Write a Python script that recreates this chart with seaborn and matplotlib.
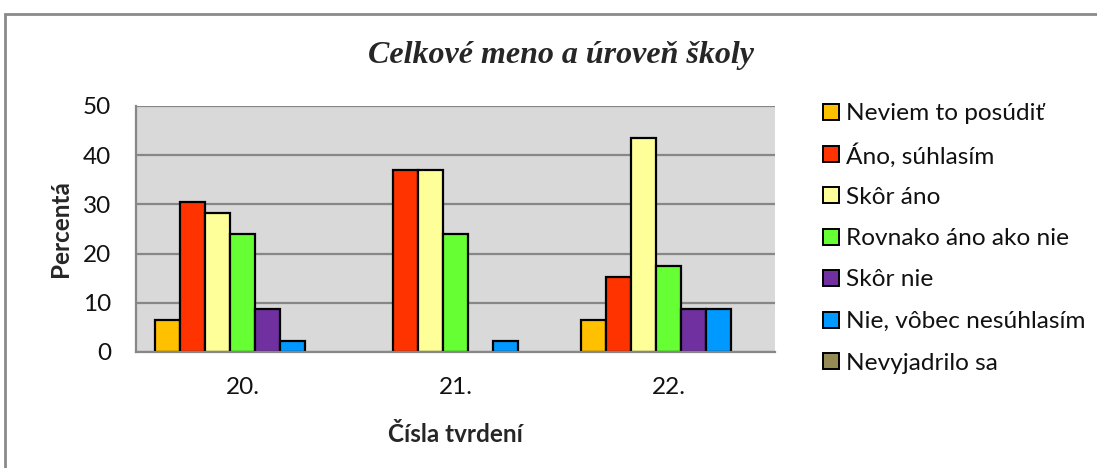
import numpy as np
import pandas as pd
import matplotlib
matplotlib.use("Agg")
import matplotlib.pyplot as plt
import seaborn as sns
from matplotlib.patches import Rectangle

categories = ["20.", "21.", "22."]
series_names = ["Neviem to posúdiť", "Áno, súhlasím", "Skôr áno",
                "Rovnako áno ako nie", "Skôr nie", "Nie, vôbec nesúhlasím",
                "Nevyjadrilo sa"]
neviem = [6.5, 0.0, 6.5]
ano = [30.4, 37.0, 15.2]
skor_ano = [28.3, 37.0, 43.5]
rovnako = [23.9, 23.9, 17.4]
skor_nie = [8.7, 0.0, 8.7]
nie = [2.2, 2.2, 8.7]
nevyjadrilo = [0.0, 0.0, 0.0]
colors = ["#FFC000", "#FF3300", "#FFFF99", "#66FF33", "#7030A0", "#0099FF", "#948A54"]
yticks = [0, 10, 20, 30, 40, 50]
title = "Celkové meno a úroveň školy"
xlabel = "Čísla tvrdení"
ylabel = "Percentá"

series_values = [neviem, ano, skor_ano, rovnako, skor_nie, nie, nevyjadrilo]
rows = []
for name, vals in zip(series_names, series_values):
    for c, v in zip(categories, vals):
        rows.append({"cat": c, "series": name, "val": v})
df = pd.DataFrame(rows)

sns.set_style("white")
plt.rcParams["font.family"] = ["Lato", "DejaVu Sans"]

W, H = 1097, 468
fig = plt.figure(figsize=(W / 100, H / 100), dpi=100)
ax = fig.add_axes([136 / W, 1 - 352 / H, (775 - 136) / W, (352 - 106) / H])

sns.barplot(data=df, x="cat", y="val", hue="series", hue_order=series_names,
            order=categories, palette=colors, saturation=1, edgecolor="black",
            linewidth=1.6, width=7 / 8.5, errorbar=None, legend=False, ax=ax)

for p in ax.patches:
    if p.get_height() == 0:
        p.set_visible(False)

ax.set_facecolor("#D9D9D9")
ax.set_xlim(-0.5, 2.5)
ax.set_ylim(0, 50)
ax.set_yticks(yticks)
ax.set_axisbelow(True)
ax.yaxis.grid(True, color="#878787", linewidth=1.6)
ax.xaxis.grid(False)
for s in ["top", "right"]:
    ax.spines[s].set_visible(False)
for s in ["left", "bottom"]:
    ax.spines[s].set_color("#878787")
    ax.spines[s].set_linewidth(1.6)
ax.tick_params(axis="y", length=9, width=1.6, color="#878787", pad=9,
               labelsize=17.5, labelcolor="#111111")
ax.tick_params(axis="x", length=0, pad=18, labelsize=17.5, labelcolor="#111111")
ax.set_xlabel("")
ax.set_ylabel("")

fig.text(561 / W, 1 - 55 / H, title, ha="center", va="center",
         family=["Liberation Serif"], style="italic", weight="bold", size=23)
fig.text(61 / W, 1 - 229 / H, ylabel, ha="center", va="center", rotation=90,
         weight="bold", size=17.5)
fig.text(455 / W, 1 - 435 / H, xlabel, ha="center", va="center",
         weight="bold", size=17.5)

# legend drawn as evenly spaced rows
row0, step = 112, 41.5
for i, (name, c) in enumerate(zip(series_names, colors)):
    yc = row0 + i * step
    fig.patches.append(Rectangle((823 / W, 1 - (yc + 8) / H), 16 / W, 16 / H,
                                 transform=fig.transFigure, facecolor=c,
                                 edgecolor="black", linewidth=1.4))
    fig.text(846 / W, 1 - yc / H, name, ha="left", va="center_baseline",
             size=17.6, color="#111111")

fig.patches.append(Rectangle((4.5 / W, -0.1), 1.2, (1 - 14 / H) + 0.1,
                             transform=fig.transFigure, fill=False,
                             edgecolor="#8a8a8a", linewidth=2))

fig.savefig("out.png", dpi=100)
